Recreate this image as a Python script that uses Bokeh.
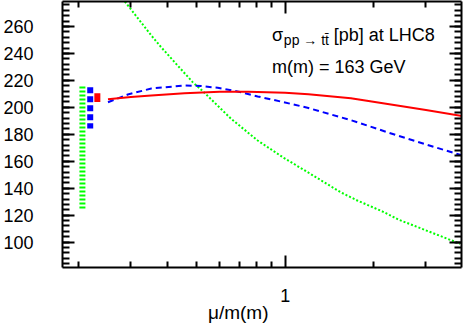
from bokeh.plotting import figure
from bokeh.models import Range1d, LinearAxis, LogAxis, FixedTicker, Label
from bokeh.embed import file_html
from bokeh.resources import INLINE

# ---- data ----
# NNLO (red solid)
mu_nnlo = [0.251, 0.30, 0.352, 0.456, 0.60, 0.75, 1.0, 1.2, 1.67, 2.46, 3.0, 3.98]
sig_nnlo = [206.0, 207.6, 208.8, 210.5, 211.5, 211.5, 210.8, 209.7, 206.8, 201.0, 198.0, 193.5]
# NLO (blue dashed)
mu_nlo = [0.251, 0.293, 0.352, 0.456, 0.519, 0.591, 0.69, 0.807, 0.99, 1.19, 1.67, 2.4, 3.0, 3.98]
sig_nlo = [203.8, 209.5, 214.0, 216.2, 215.8, 214.5, 211.8, 208.1, 203.8, 199.7, 190.5, 179.1, 172.5, 164.3]
# LO (green dotted)
mu_lo = [0.251, 0.286, 0.352, 0.38, 0.486, 0.526, 0.656, 0.807, 0.99, 1.19, 1.54, 1.756, 2.15, 2.43, 3.92]
sig_lo = [295.0, 278.6, 253.3, 244.6, 218.7, 212.0, 191.5, 175.4, 162.5, 152.0, 137.1, 130.9, 122.5, 116.6, 98.8]

# scale-variation bars at the left (LO, NLO, NNLO)
bar_x = [0.2056, 0.2185, 0.231]
bar_lo = [124.8, 184.3, 203.9]
bar_hi = [215.5, 214.9, 210.5]

x_major = [1]
x_minor = [0.2, 0.3, 0.4, 0.5, 0.6, 0.7, 0.8, 0.9, 2, 3]
y_major = [100, 120, 140, 160, 180, 200, 220, 240, 260]
y_minor = list(range(84, 279, 4))

FONT = "Liberation Sans"
NB = "\u00a0"

p = figure(width=463, height=328, x_axis_type="log",
           x_range=Range1d(0.176, 3.96), y_range=Range1d(81.2, 278.5),
           output_backend="svg", toolbar_location=None,
           min_border_left=61, min_border_right=2, min_border_top=1, min_border_bottom=61)
p.xgrid.visible = False
p.ygrid.visible = False
p.outline_line_color = None
p.background_fill_color = "white"
p.border_fill_color = "white"


def style_axis(ax, minor_in, labels=True):
    ax.axis_line_width = 2
    ax.axis_line_color = "black"
    ax.major_tick_line_width = 2
    ax.minor_tick_line_width = 2
    ax.major_tick_in = 12
    ax.major_tick_out = 0
    ax.minor_tick_in = minor_in
    ax.minor_tick_out = 0
    ax.major_label_text_font = FONT
    ax.major_label_text_font_size = "18px"
    ax.major_label_text_color = "black" if labels else None


xa = p.xaxis[0]
xa.ticker = FixedTicker(ticks=x_major, minor_ticks=x_minor)
xa.major_label_overrides = {1: "1"}
xa.major_label_standoff = 21
xa.axis_label = "μ/m(m)" + NB * 9
xa.axis_label_standoff = -3
xa.axis_label_text_font = FONT
xa.axis_label_text_font_size = "19px"
xa.axis_label_text_font_style = "normal"
xa.axis_label_text_color = "black"
style_axis(xa, 6)

ya = p.yaxis[0]
ya.ticker = FixedTicker(ticks=y_major, minor_ticks=y_minor)
ya.major_label_standoff = 29
style_axis(ya, 7)

top = LogAxis(ticker=FixedTicker(ticks=x_major, minor_ticks=x_minor), major_label_standoff=0)
style_axis(top, 6, labels=False)
p.add_layout(top, "above")

right = LinearAxis(ticker=FixedTicker(ticks=y_major, minor_ticks=y_minor), major_label_standoff=0)
style_axis(right, 7, labels=False)
p.add_layout(right, "right")

# curves
p.line(mu_lo, sig_lo, line_color="#00ff00", line_width=2, line_dash="2 2")
p.line(mu_nlo, sig_nlo, line_color="#0000ff", line_width=2, line_dash="6 4")
p.line(mu_nnlo, sig_nnlo, line_color="#ff0000", line_width=2)

# bars
p.segment(x0=[bar_x[0]], y0=[bar_hi[0]], x1=[bar_x[0]], y1=[bar_lo[0]],
          line_color="#00ff00", line_width=6, line_dash="2 2")
p.segment(x0=[bar_x[1]], y0=[bar_hi[1]], x1=[bar_x[1]], y1=[bar_lo[1]],
          line_color="#0000ff", line_width=6, line_dash="6 3")
p.segment(x0=[bar_x[2]], y0=[bar_hi[2]], x1=[bar_x[2]], y1=[bar_lo[2]],
          line_color="#ff0000", line_width=6)

# texts
def lab(x, y, t, size):
    p.add_layout(Label(x=x, y=y, text=t, text_font=FONT, text_font_size=size,
                       text_color="black", text_align="left", text_baseline="alphabetic"))

lab(0.902, 253.3, "σ", "18px")
lab(0.99, 250.0, "pp → tt\u0304", "14px")
lab(1.46, 253.3, "[pb] at LHC8", "18px")
lab(0.902, 229.8, "m(m) = 163 GeV", "18px")

open("out.html", "w").write(file_html(p, INLINE))
